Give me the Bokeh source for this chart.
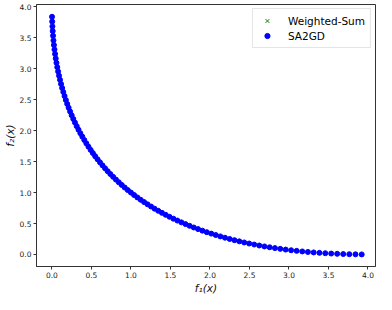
from bokeh.plotting import figure
from bokeh.models import Range1d, FixedTicker, PrintfTickFormatter, Legend, LegendItem
from bokeh.embed import file_html
from bokeh.resources import INLINE

# SA2GD Pareto front points (f1, f2)
sa2gd_f1 = [0.0016, 0.0036, 0.0064, 0.01, 0.0144, 0.0196, 0.0256, 0.0324, 0.04, 0.0484,
            0.0576, 0.0676, 0.0784, 0.09, 0.1024, 0.1156, 0.1296, 0.1444, 0.16, 0.1764,
            0.1936, 0.2116, 0.2304, 0.25, 0.2704, 0.2916, 0.3136, 0.3364, 0.36, 0.3844,
            0.4096, 0.4356, 0.4624, 0.49, 0.5184, 0.5476, 0.5776, 0.6084, 0.64, 0.6724,
            0.7056, 0.7396, 0.7744, 0.81, 0.8464, 0.8836, 0.9216, 0.9604, 1.0, 1.0404,
            1.0816, 1.1236, 1.1664, 1.21, 1.2544, 1.2996, 1.3456, 1.3924, 1.44, 1.4884,
            1.5376, 1.5876, 1.6384, 1.69, 1.7424, 1.7956, 1.8496, 1.9044, 1.96, 2.0164,
            2.0736, 2.1316, 2.1904, 2.25, 2.3104, 2.3716, 2.4336, 2.4964, 2.56, 2.6244,
            2.6896, 2.7556, 2.8224, 2.89, 2.9584, 3.0276, 3.0976, 3.1684, 3.24, 3.3124,
            3.3856, 3.4596, 3.5344, 3.61, 3.6864, 3.7636, 3.8416, 3.9204]
sa2gd_f2 = [3.8416, 3.7636, 3.6864, 3.61, 3.5344, 3.4596, 3.3856, 3.3124, 3.24, 3.1684,
            3.0976, 3.0276, 2.9584, 2.89, 2.8224, 2.7556, 2.6896, 2.6244, 2.56, 2.4964,
            2.4336, 2.3716, 2.3104, 2.25, 2.1904, 2.1316, 2.0736, 2.0164, 1.96, 1.9044,
            1.8496, 1.7956, 1.7424, 1.69, 1.6384, 1.5876, 1.5376, 1.4884, 1.44, 1.3924,
            1.3456, 1.2996, 1.2544, 1.21, 1.1664, 1.1236, 1.0816, 1.0404, 1.0, 0.9604,
            0.9216, 0.8836, 0.8464, 0.81, 0.7744, 0.7396, 0.7056, 0.6724, 0.64, 0.6084,
            0.5776, 0.5476, 0.5184, 0.49, 0.4624, 0.4356, 0.4096, 0.3844, 0.36, 0.3364,
            0.3136, 0.2916, 0.2704, 0.25, 0.2304, 0.2116, 0.1936, 0.1764, 0.16, 0.1444,
            0.1296, 0.1156, 0.1024, 0.09, 0.0784, 0.0676, 0.0576, 0.0484, 0.04, 0.0324,
            0.0256, 0.0196, 0.0144, 0.01, 0.0064, 0.0036, 0.0016, 0.0004]

# Weighted-Sum points (hidden under the SA2GD markers in the picture)
ws_f1 = [0.04, 0.25, 1.0, 2.25, 3.24]
ws_f2 = [3.24, 2.25, 1.0, 0.25, 0.04]

x_ticks = [0.0, 0.5, 1.0, 1.5, 2.0, 2.5, 3.0, 3.5, 4.0]
y_ticks = [0.0, 0.5, 1.0, 1.5, 2.0, 2.5, 3.0, 3.5, 4.0]

FONT = "DejaVu Sans"

p = figure(frame_width=339, frame_height=262, output_backend="svg", toolbar_location=None,
           x_range=Range1d(-0.195, 4.095), y_range=Range1d(-0.195, 4.04),
           min_border_left=0, min_border_right=2, min_border_top=4, min_border_bottom=0)

p.xgrid.visible = False
p.ygrid.visible = False
p.outline_line_color = "#333333"
p.outline_line_width = 1
p.background_fill_color = "white"
p.border_fill_color = "white"

for ax, ticks in ((p.xaxis[0], x_ticks), (p.yaxis[0], y_ticks)):
    ax.ticker = FixedTicker(ticks=ticks)
    ax.formatter = PrintfTickFormatter(format="%.1f")
    ax.major_label_text_font = FONT
    ax.major_label_text_font_size = "7.5px"
    ax.major_label_text_color = "#222222"
    ax.major_tick_in = 0
    ax.major_tick_out = 3
    ax.minor_tick_line_color = None
    ax.axis_line_color = "#333333"
    ax.major_tick_line_color = "#333333"
    ax.axis_label_text_font = FONT
    ax.axis_label_text_font_size = "10.5px"
    ax.axis_label_text_font_style = "italic"
    ax.axis_label_text_color = "#111111"
    ax.axis_label_standoff = 1
    ax.major_label_standoff = 2

p.xaxis[0].axis_label = "f₁(x)"
p.yaxis[0].axis_label = "f₂(x)"

r_ws = p.scatter(ws_f1, ws_f2, marker="x", size=4, line_color="green", line_width=1)
r_sa = p.scatter(sa2gd_f1, sa2gd_f2, marker="circle", size=5,
                 fill_color="#0000ff", line_color="#0000ff")

legend = Legend(items=[LegendItem(label="Weighted-Sum", renderers=[r_ws]),
                       LegendItem(label="SA2GD", renderers=[r_sa])],
                location="top_right")
legend.label_text_font = FONT
legend.label_text_font_size = "10.5px"
legend.label_text_color = "black"
legend.label_height = 13
legend.glyph_height = 13
legend.glyph_width = 18
legend.label_standoff = 12
legend.spacing = 2
legend.padding = 5
legend.margin = 4
legend.border_line_color = "#cccccc"
legend.border_line_width = 1
legend.background_fill_alpha = 0.8
p.add_layout(legend)

open("out.html", "w").write(file_html(p, INLINE))
